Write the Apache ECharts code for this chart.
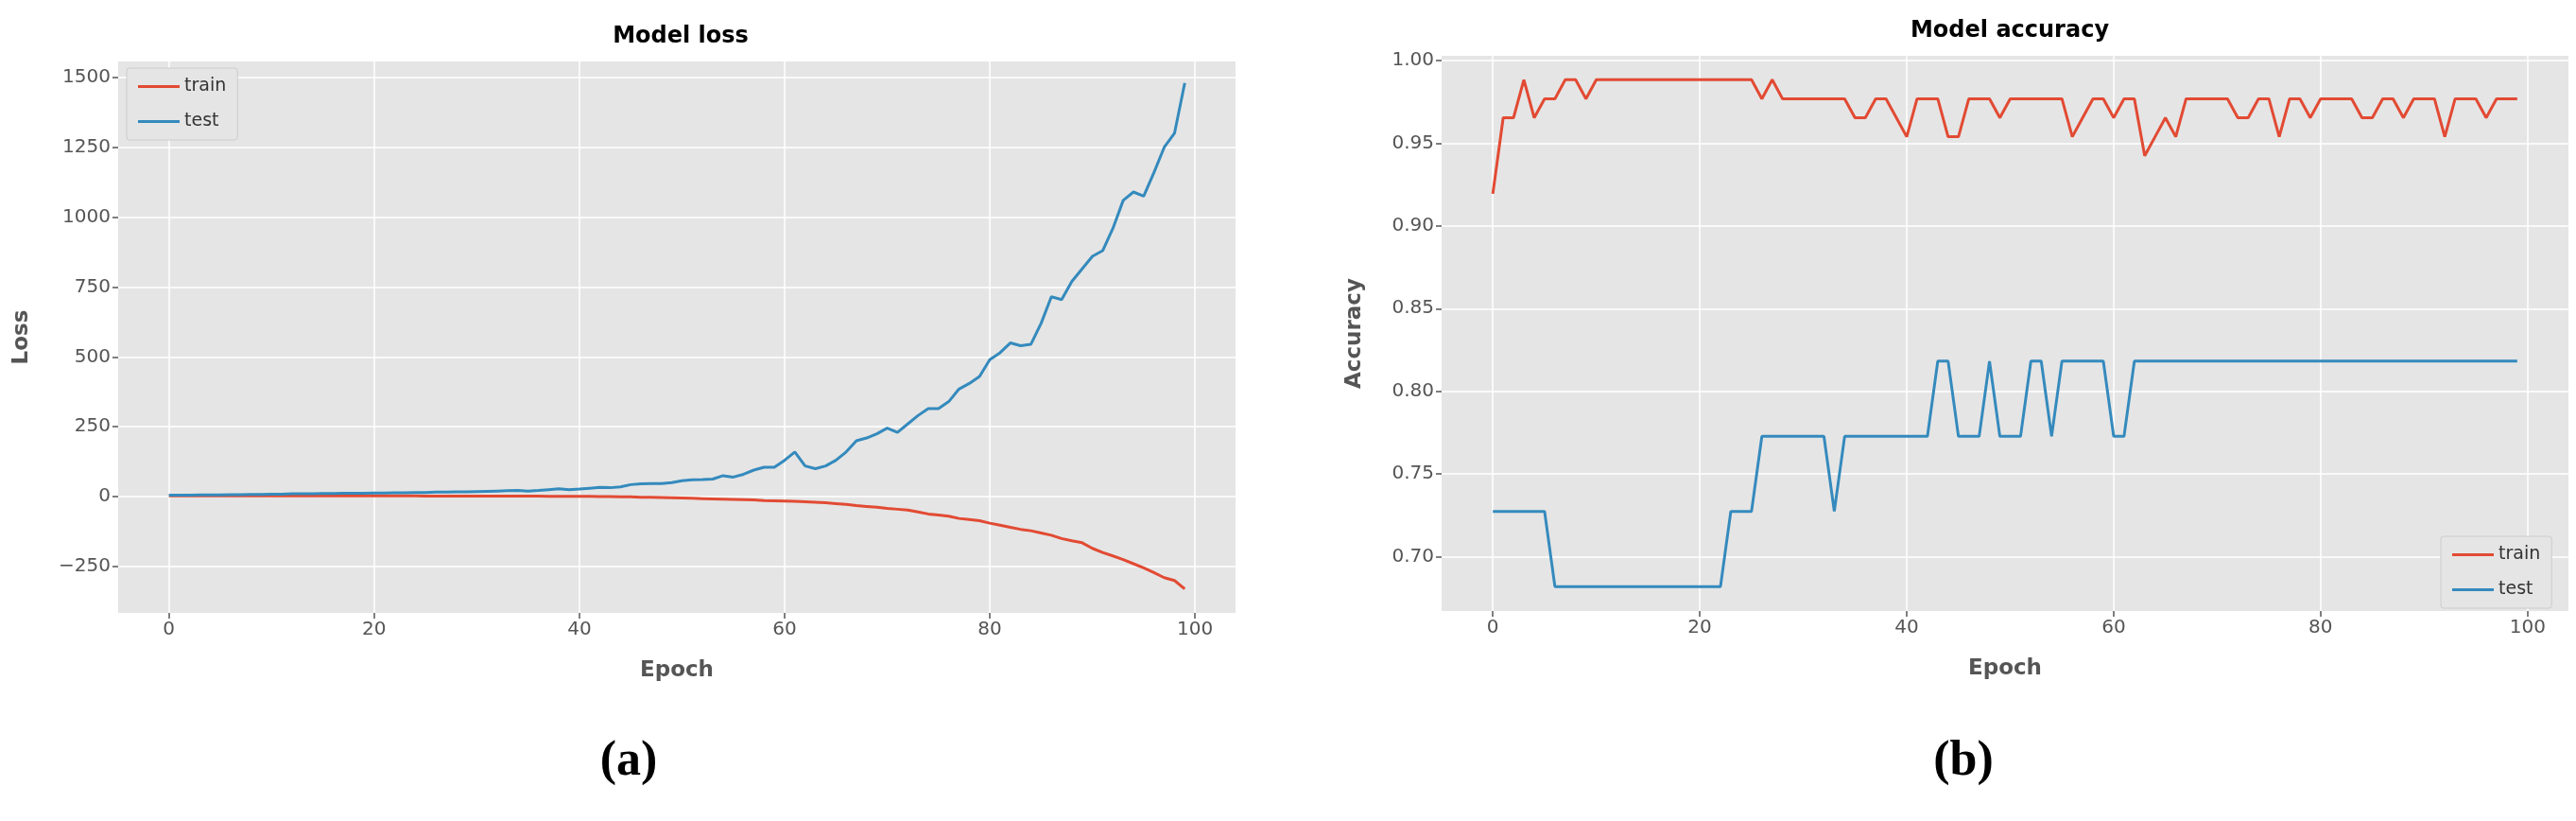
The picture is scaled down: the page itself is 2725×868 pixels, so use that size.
<!DOCTYPE html>
<html>
<head>
<meta charset="utf-8">
<script src="https://cdn.jsdelivr.net/npm/echarts@6/dist/echarts.min.js"></script>
<style>html,body{margin:0;background:#fff}#main{width:2725px;height:868px}</style>
</head>
<body>
<div id="main"></div>
<script>
// epochs 0..99
const epochs = Array.from({ length: 100 }, (_, i) => i);

const lossTrain = [
  3, 3, 3, 3, 3, 3, 3, 3, 3, 3,
  3, 3, 3, 3, 3, 3, 3, 3, 3, 3,
  3, 3, 3, 3, 3, 2, 2, 2, 2, 2,
  2, 2, 2, 2, 2, 2, 2, 1, 1, 1,
  1, 1, 0, 0, -1, -1, -2, -2, -3, -4,
  -5, -6, -7, -8, -9, -10, -11, -12, -14, -15,
  -16, -17, -18, -20, -22, -25, -28, -32, -35, -38,
  -42, -45, -48, -55, -62, -66, -70, -78, -82, -86,
  -95, -102, -110, -117, -122, -130, -138, -150, -158, -165,
  -185, -200, -212, -225, -240, -255, -272, -290, -300, -330
];
const lossTest = [
  5, 5, 5, 6, 6, 6, 7, 7, 8, 8,
  9, 9, 10, 10, 10, 11, 11, 12, 12, 12,
  13, 13, 14, 14, 15, 15, 16, 16, 17, 17,
  18, 19, 20, 21, 22, 20, 22, 25, 28, 25,
  27, 30, 33, 32, 35, 43, 46, 47, 47, 50,
  57, 60, 61, 63, 75, 70, 80, 95, 105, 105,
  130, 160, 110, 100, 110, 130, 160, 200, 210, 225,
  245, 230, 260, 290, 315, 315, 340, 385, 405, 430,
  490, 515, 550, 540, 545, 620, 715, 705, 770, 815,
  860, 880, 960, 1060, 1090, 1075, 1160, 1250, 1300, 1480
];
const accTrain = [
  0.9195, 0.9655, 0.9655, 0.9885, 0.9655, 0.9770, 0.9770, 0.9885, 0.9885, 0.9770,
  0.9885, 0.9885, 0.9885, 0.9885, 0.9885, 0.9885, 0.9885, 0.9885, 0.9885, 0.9885,
  0.9885, 0.9885, 0.9885, 0.9885, 0.9885, 0.9885, 0.9770, 0.9885, 0.9770, 0.9770,
  0.9770, 0.9770, 0.9770, 0.9770, 0.9770, 0.9655, 0.9655, 0.9770, 0.9770, 0.9655,
  0.9540, 0.9770, 0.9770, 0.9770, 0.9540, 0.9540, 0.9770, 0.9770, 0.9770, 0.9655,
  0.9770, 0.9770, 0.9770, 0.9770, 0.9770, 0.9770, 0.9540, 0.9655, 0.9770, 0.9770,
  0.9655, 0.9770, 0.9770, 0.9425, 0.9540, 0.9655, 0.9540, 0.9770, 0.9770, 0.9770,
  0.9770, 0.9770, 0.9655, 0.9655, 0.9770, 0.9770, 0.9540, 0.9770, 0.9770, 0.9655,
  0.9770, 0.9770, 0.9770, 0.9770, 0.9655, 0.9655, 0.9770, 0.9770, 0.9655, 0.9770,
  0.9770, 0.9770, 0.9540, 0.9770, 0.9770, 0.9770, 0.9655, 0.9770, 0.9770, 0.9770
];
const accTest = [
  0.7273, 0.7273, 0.7273, 0.7273, 0.7273, 0.7273, 0.6818, 0.6818, 0.6818, 0.6818,
  0.6818, 0.6818, 0.6818, 0.6818, 0.6818, 0.6818, 0.6818, 0.6818, 0.6818, 0.6818,
  0.6818, 0.6818, 0.6818, 0.7273, 0.7273, 0.7273, 0.7727, 0.7727, 0.7727, 0.7727,
  0.7727, 0.7727, 0.7727, 0.7273, 0.7727, 0.7727, 0.7727, 0.7727, 0.7727, 0.7727,
  0.7727, 0.7727, 0.7727, 0.8182, 0.8182, 0.7727, 0.7727, 0.7727, 0.8182, 0.7727,
  0.7727, 0.7727, 0.8182, 0.8182, 0.7727, 0.8182, 0.8182, 0.8182, 0.8182, 0.8182,
  0.7727, 0.7727, 0.8182, 0.8182, 0.8182, 0.8182, 0.8182, 0.8182, 0.8182, 0.8182,
  0.8182, 0.8182, 0.8182, 0.8182, 0.8182, 0.8182, 0.8182, 0.8182, 0.8182, 0.8182,
  0.8182, 0.8182, 0.8182, 0.8182, 0.8182, 0.8182, 0.8182, 0.8182, 0.8182, 0.8182,
  0.8182, 0.8182, 0.8182, 0.8182, 0.8182, 0.8182, 0.8182, 0.8182, 0.8182, 0.8182
];

const xTicks = [0, 20, 40, 60, 80, 100];
const lossTicks = [-250, 0, 250, 500, 750, 1000, 1250, 1500];
const accTicks = [0.70, 0.75, 0.80, 0.85, 0.90, 0.95, 1.00];

const RED = '#E24A33', BLUE = '#348ABD', GREY = '#555';
const FONT = '"DejaVu Sans", sans-serif';

function pairs(ys) { return epochs.map((x, i) => [x, ys[i]]); }

function axisBase(ticks, fmt) {
  return {
    axisLine: { show: false, onZero: false },
    axisTick: { show: true, customValues: ticks, length: 6, lineStyle: { color: GREY, width: 1.5 } },
    axisLabel: { customValues: ticks, color: GREY, fontSize: 20, fontFamily: FONT, formatter: fmt },
    splitLine: { show: true, lineStyle: { color: '#fff', width: 1.5 } },
    nameTextStyle: { color: GREY, fontSize: 23, fontWeight: 'bold', fontFamily: FONT }
  };
}
const minusFmt = v => String(v).replace('-', '\u2212');

function line(name, ys, color, idx) {
  return {
    name: name, type: 'line', data: pairs(ys), xAxisIndex: idx, yAxisIndex: idx,
    showSymbol: false, symbol: 'none', lineStyle: { color: color, width: 3 }, itemStyle: { color: color },
    animation: false
  };
}

const legendStyle = {
  data: ['train', 'test'], orient: 'vertical',
  itemWidth: 44, itemHeight: 3, itemGap: 18, icon: 'rect', padding: [10, 12],
  backgroundColor: '#E5E5E5', borderColor: '#CCCCCC', borderWidth: 1, borderRadius: 3,
  textStyle: { fontSize: 19, color: '#333', fontFamily: FONT }
};

const chart = echarts.init(document.getElementById('main'));
chart.setOption({
  backgroundColor: '#fff',
  title: [
    { text: 'Model loss', left: 715, top: 22, textAlign: 'center', textStyle: { fontSize: 24, fontWeight: 'bold', fontFamily: FONT, color: '#000' } },
    { text: 'Model accuracy', left: 2121, top: 16, textAlign: 'center', textStyle: { fontSize: 24, fontWeight: 'bold', fontFamily: FONT, color: '#000' } },
    { text: '(a)', left: 660, top: 775, textAlign: 'center', textStyle: { fontSize: 52, fontWeight: 'bold', fontFamily: '"Liberation Serif", serif', color: '#000' } },
    { text: '(b)', left: 2072, top: 775, textAlign: 'center', textStyle: { fontSize: 52, fontWeight: 'bold', fontFamily: '"Liberation Serif", serif', color: '#000' } }
  ],
  grid: [
    { left: 125, top: 65, width: 1182, height: 583, show: true, backgroundColor: '#E5E5E5', borderWidth: 0 },
    { left: 1525, top: 59, width: 1192, height: 587, show: true, backgroundColor: '#E5E5E5', borderWidth: 0 }
  ],
  legend: [
    Object.assign({}, legendStyle, { left: 134, top: 72 }),
    Object.assign({}, legendStyle, { left: 2582, top: 567 })
  ],
  xAxis: [
    Object.assign(axisBase(xTicks), { type: 'value', gridIndex: 0, min: -4.95, max: 103.95, name: 'Epoch', nameLocation: 'middle', nameGap: 50 }),
    Object.assign(axisBase(xTicks), { type: 'value', gridIndex: 1, min: -4.95, max: 103.95, name: 'Epoch', nameLocation: 'middle', nameGap: 50 })
  ],
  yAxis: [
    Object.assign(axisBase(lossTicks, minusFmt), { type: 'value', gridIndex: 0, min: -416, max: 1557, name: 'Loss', nameLocation: 'middle', nameGap: 90 }),
    Object.assign(axisBase(accTicks, v => v.toFixed(2)), { type: 'value', gridIndex: 1, min: 0.667, max: 1.003, name: 'Accuracy', nameLocation: 'middle', nameGap: 80 })
  ],
  series: [
    line('train', lossTrain, RED, 0),
    line('test', lossTest, BLUE, 0),
    line('train', accTrain, RED, 1),
    line('test', accTest, BLUE, 1)
  ]
});
</script>
</body>
</html>
